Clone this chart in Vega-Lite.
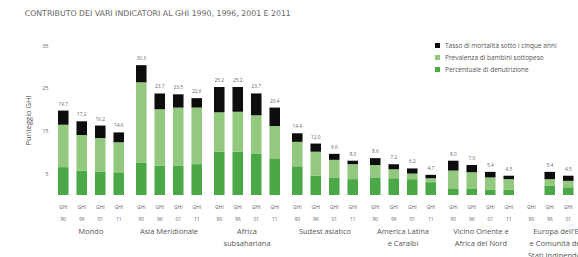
{
  "$schema": "https://vega.github.io/schema/vega-lite/v6.json",
  "padding": {"left": 24, "top": 10, "right": 0, "bottom": 0},
  "title": {"text": "CONTRIBUTO DEI VARI INDICATORI AL GHI 1990, 1996, 2001 E 2011", "anchor": "start", "frame": "bounds", "fontSize": 7.8, "fontWeight": "normal", "color": "#666666", "font": "DejaVu Sans", "offset": 24},
  "config": {"view": {"stroke": null}, "font": "Open Sans"},
  "data": {"values": [
    {"regione": "Mondo", "anno": "90", "indicatore": "Percentuale di denutrizione", "valore": 6.5},
    {"regione": "Mondo", "anno": "90", "indicatore": "Prevalenza di bambini sottopeso", "valore": 9.9},
    {"regione": "Mondo", "anno": "90", "indicatore": "Tasso di mortalità sotto i cinque anni", "valore": 3.3},
    {"regione": "Mondo", "anno": "96", "indicatore": "Percentuale di denutrizione", "valore": 5.7},
    {"regione": "Mondo", "anno": "96", "indicatore": "Prevalenza di bambini sottopeso", "valore": 8.3},
    {"regione": "Mondo", "anno": "96", "indicatore": "Tasso di mortalità sotto i cinque anni", "valore": 3.2},
    {"regione": "Mondo", "anno": "01", "indicatore": "Percentuale di denutrizione", "valore": 5.4},
    {"regione": "Mondo", "anno": "01", "indicatore": "Prevalenza di bambini sottopeso", "valore": 7.9},
    {"regione": "Mondo", "anno": "01", "indicatore": "Tasso di mortalità sotto i cinque anni", "valore": 2.9},
    {"regione": "Mondo", "anno": "11", "indicatore": "Percentuale di denutrizione", "valore": 5.3},
    {"regione": "Mondo", "anno": "11", "indicatore": "Prevalenza di bambini sottopeso", "valore": 7.0},
    {"regione": "Mondo", "anno": "11", "indicatore": "Tasso di mortalità sotto i cinque anni", "valore": 2.3},
    {"regione": "Asia Meridionale", "anno": "90", "indicatore": "Percentuale di denutrizione", "valore": 7.6},
    {"regione": "Asia Meridionale", "anno": "90", "indicatore": "Prevalenza di bambini sottopeso", "valore": 18.7},
    {"regione": "Asia Meridionale", "anno": "90", "indicatore": "Tasso di mortalità sotto i cinque anni", "valore": 4.0},
    {"regione": "Asia Meridionale", "anno": "96", "indicatore": "Percentuale di denutrizione", "valore": 6.8},
    {"regione": "Asia Meridionale", "anno": "96", "indicatore": "Prevalenza di bambini sottopeso", "valore": 13.2},
    {"regione": "Asia Meridionale", "anno": "96", "indicatore": "Tasso di mortalità sotto i cinque anni", "valore": 3.7},
    {"regione": "Asia Meridionale", "anno": "01", "indicatore": "Percentuale di denutrizione", "valore": 6.8},
    {"regione": "Asia Meridionale", "anno": "01", "indicatore": "Prevalenza di bambini sottopeso", "valore": 13.6},
    {"regione": "Asia Meridionale", "anno": "01", "indicatore": "Tasso di mortalità sotto i cinque anni", "valore": 3.1},
    {"regione": "Asia Meridionale", "anno": "11", "indicatore": "Percentuale di denutrizione", "valore": 7.2},
    {"regione": "Asia Meridionale", "anno": "11", "indicatore": "Prevalenza di bambini sottopeso", "valore": 13.2},
    {"regione": "Asia Meridionale", "anno": "11", "indicatore": "Tasso di mortalità sotto i cinque anni", "valore": 2.2},
    {"regione": "Africa subsahariana", "anno": "90", "indicatore": "Percentuale di denutrizione", "valore": 10.1},
    {"regione": "Africa subsahariana", "anno": "90", "indicatore": "Prevalenza di bambini sottopeso", "valore": 9.2},
    {"regione": "Africa subsahariana", "anno": "90", "indicatore": "Tasso di mortalità sotto i cinque anni", "valore": 5.9},
    {"regione": "Africa subsahariana", "anno": "96", "indicatore": "Percentuale di denutrizione", "valore": 10.1},
    {"regione": "Africa subsahariana", "anno": "96", "indicatore": "Prevalenza di bambini sottopeso", "valore": 9.3},
    {"regione": "Africa subsahariana", "anno": "96", "indicatore": "Tasso di mortalità sotto i cinque anni", "valore": 5.8},
    {"regione": "Africa subsahariana", "anno": "01", "indicatore": "Percentuale di denutrizione", "valore": 9.6},
    {"regione": "Africa subsahariana", "anno": "01", "indicatore": "Prevalenza di bambini sottopeso", "valore": 9.0},
    {"regione": "Africa subsahariana", "anno": "01", "indicatore": "Tasso di mortalità sotto i cinque anni", "valore": 5.1},
    {"regione": "Africa subsahariana", "anno": "11", "indicatore": "Percentuale di denutrizione", "valore": 8.4},
    {"regione": "Africa subsahariana", "anno": "11", "indicatore": "Prevalenza di bambini sottopeso", "valore": 7.7},
    {"regione": "Africa subsahariana", "anno": "11", "indicatore": "Tasso di mortalità sotto i cinque anni", "valore": 4.3},
    {"regione": "Sudest asiatico", "anno": "90", "indicatore": "Percentuale di denutrizione", "valore": 6.7},
    {"regione": "Sudest asiatico", "anno": "90", "indicatore": "Prevalenza di bambini sottopeso", "valore": 5.7},
    {"regione": "Sudest asiatico", "anno": "90", "indicatore": "Tasso di mortalità sotto i cinque anni", "valore": 2.0},
    {"regione": "Sudest asiatico", "anno": "96", "indicatore": "Percentuale di denutrizione", "valore": 4.5},
    {"regione": "Sudest asiatico", "anno": "96", "indicatore": "Prevalenza di bambini sottopeso", "valore": 5.6},
    {"regione": "Sudest asiatico", "anno": "96", "indicatore": "Tasso di mortalità sotto i cinque anni", "valore": 1.9},
    {"regione": "Sudest asiatico", "anno": "01", "indicatore": "Percentuale di denutrizione", "valore": 4.1},
    {"regione": "Sudest asiatico", "anno": "01", "indicatore": "Prevalenza di bambini sottopeso", "valore": 4.1},
    {"regione": "Sudest asiatico", "anno": "01", "indicatore": "Tasso di mortalità sotto i cinque anni", "valore": 1.4},
    {"regione": "Sudest asiatico", "anno": "11", "indicatore": "Percentuale di denutrizione", "valore": 3.7},
    {"regione": "Sudest asiatico", "anno": "11", "indicatore": "Prevalenza di bambini sottopeso", "valore": 3.5},
    {"regione": "Sudest asiatico", "anno": "11", "indicatore": "Tasso di mortalità sotto i cinque anni", "valore": 0.8},
    {"regione": "America Latina e Caraibi", "anno": "90", "indicatore": "Percentuale di denutrizione", "valore": 4.1},
    {"regione": "America Latina e Caraibi", "anno": "90", "indicatore": "Prevalenza di bambini sottopeso", "valore": 2.9},
    {"regione": "America Latina e Caraibi", "anno": "90", "indicatore": "Tasso di mortalità sotto i cinque anni", "valore": 1.6},
    {"regione": "America Latina e Caraibi", "anno": "96", "indicatore": "Percentuale di denutrizione", "valore": 3.9},
    {"regione": "America Latina e Caraibi", "anno": "96", "indicatore": "Prevalenza di bambini sottopeso", "valore": 2.1},
    {"regione": "America Latina e Caraibi", "anno": "96", "indicatore": "Tasso di mortalità sotto i cinque anni", "valore": 1.2},
    {"regione": "America Latina e Caraibi", "anno": "01", "indicatore": "Percentuale di denutrizione", "valore": 3.7},
    {"regione": "America Latina e Caraibi", "anno": "01", "indicatore": "Prevalenza di bambini sottopeso", "valore": 1.3},
    {"regione": "America Latina e Caraibi", "anno": "01", "indicatore": "Tasso di mortalità sotto i cinque anni", "valore": 1.2},
    {"regione": "America Latina e Caraibi", "anno": "11", "indicatore": "Percentuale di denutrizione", "valore": 3.0},
    {"regione": "America Latina e Caraibi", "anno": "11", "indicatore": "Prevalenza di bambini sottopeso", "valore": 0.9},
    {"regione": "America Latina e Caraibi", "anno": "11", "indicatore": "Tasso di mortalità sotto i cinque anni", "valore": 0.8},
    {"regione": "Vicino Oriente e Africa del Nord", "anno": "90", "indicatore": "Percentuale di denutrizione", "valore": 1.4},
    {"regione": "Vicino Oriente e Africa del Nord", "anno": "90", "indicatore": "Prevalenza di bambini sottopeso", "valore": 4.3},
    {"regione": "Vicino Oriente e Africa del Nord", "anno": "90", "indicatore": "Tasso di mortalità sotto i cinque anni", "valore": 2.3},
    {"regione": "Vicino Oriente e Africa del Nord", "anno": "96", "indicatore": "Percentuale di denutrizione", "valore": 1.4},
    {"regione": "Vicino Oriente e Africa del Nord", "anno": "96", "indicatore": "Prevalenza di bambini sottopeso", "valore": 3.9},
    {"regione": "Vicino Oriente e Africa del Nord", "anno": "96", "indicatore": "Tasso di mortalità sotto i cinque anni", "valore": 1.7},
    {"regione": "Vicino Oriente e Africa del Nord", "anno": "01", "indicatore": "Percentuale di denutrizione", "valore": 1.2},
    {"regione": "Vicino Oriente e Africa del Nord", "anno": "01", "indicatore": "Prevalenza di bambini sottopeso", "valore": 2.9},
    {"regione": "Vicino Oriente e Africa del Nord", "anno": "01", "indicatore": "Tasso di mortalità sotto i cinque anni", "valore": 1.3},
    {"regione": "Vicino Oriente e Africa del Nord", "anno": "11", "indicatore": "Percentuale di denutrizione", "valore": 1.2},
    {"regione": "Vicino Oriente e Africa del Nord", "anno": "11", "indicatore": "Prevalenza di bambini sottopeso", "valore": 2.5},
    {"regione": "Vicino Oriente e Africa del Nord", "anno": "11", "indicatore": "Tasso di mortalità sotto i cinque anni", "valore": 0.8},
    {"regione": "Europa dell'Est e Comunità degli Stati Indipendenti", "anno": "96", "indicatore": "Percentuale di denutrizione", "valore": 2.2},
    {"regione": "Europa dell'Est e Comunità degli Stati Indipendenti", "anno": "96", "indicatore": "Prevalenza di bambini sottopeso", "valore": 1.5},
    {"regione": "Europa dell'Est e Comunità degli Stati Indipendenti", "anno": "96", "indicatore": "Tasso di mortalità sotto i cinque anni", "valore": 1.7},
    {"regione": "Europa dell'Est e Comunità degli Stati Indipendenti", "anno": "01", "indicatore": "Percentuale di denutrizione", "valore": 1.8},
    {"regione": "Europa dell'Est e Comunità degli Stati Indipendenti", "anno": "01", "indicatore": "Prevalenza di bambini sottopeso", "valore": 1.5},
    {"regione": "Europa dell'Est e Comunità degli Stati Indipendenti", "anno": "01", "indicatore": "Tasso di mortalità sotto i cinque anni", "valore": 1.2},
    {"regione": "Europa dell'Est e Comunità degli Stati Indipendenti", "anno": "11", "indicatore": "Percentuale di denutrizione", "valore": 1.7},
    {"regione": "Europa dell'Est e Comunità degli Stati Indipendenti", "anno": "11", "indicatore": "Prevalenza di bambini sottopeso", "valore": 1.1},
    {"regione": "Europa dell'Est e Comunità degli Stati Indipendenti", "anno": "11", "indicatore": "Tasso di mortalità sotto i cinque anni", "valore": 0.8}
  ]},
  "spacing": 4,
  "facet": {
    "column": {
      "field": "regione", "type": "nominal",
      "sort": ["Mondo", "Asia Meridionale", "Africa subsahariana", "Sudest asiatico", "America Latina e Caraibi", "Vicino Oriente e Africa del Nord", "Europa dell'Est e Comunità degli Stati Indipendenti"],
      "header": {
        "title": null,
        "labelOrient": "bottom",
        "labelFontSize": 7.5,
        "labelColor": "#555555",
        "labelLineHeight": 12,
        "labelPadding": 7,
        "labelBaseline": "top",
        "labelExpr": "datum.value == 'Africa subsahariana' ? ['Africa', 'subsahariana'] : datum.value == 'America Latina e Caraibi' ? ['America Latina', 'e Caraibi'] : datum.value == 'Vicino Oriente e Africa del Nord' ? ['Vicino Oriente e', 'Africa del Nord'] : indexof(datum.value, 'Europa') == 0 ? [\"Europa dell'Est\", 'e Comunità degli', 'Stati Indipendenti'] : datum.value"
      }
    }
  },
  "spec": {
    "width": 74,
    "height": 150,
    "layer": [
      {
        "mark": {"type": "bar"},
        "encoding": {
          "x": {"field": "anno", "type": "ordinal", "sort": ["90", "96", "01", "11"],
            "scale": {"paddingInner": 0.43, "paddingOuter": 0.215},
            "axis": {"title": null, "labelExpr": "['GHI', datum.value]", "labelAngle": 0, "domain": false, "ticks": false, "labelFontSize": 5, "labelColor": "#666666", "labelLineHeight": 12, "labelPadding": 9}},
          "y": {"field": "valore", "type": "quantitative", "stack": "zero",
            "scale": {"domain": [0, 35]},
            "axis": {"title": "Punteggio GHI", "values": [5, 10, 15, 20, 25, 30, 35], "grid": false, "domain": false, "ticks": false, "labelFontSize": 5.5, "labelColor": "#666666", "labelPadding": 6, "titleFontSize": 7.5, "titleFontWeight": "normal", "titleColor": "#555555", "titlePadding": 9}},
          "color": {"field": "indicatore", "type": "nominal",
            "scale": {"domain": ["Tasso di mortalità sotto i cinque anni", "Prevalenza di bambini sottopeso", "Percentuale di denutrizione"], "range": ["#0d0d0d", "#93c97e", "#4aa847"]},
            "legend": {"title": null, "orient": "none", "legendX": 380, "legendY": -3, "symbolType": "square", "symbolSize": 25, "labelFontSize": 6.5, "labelColor": "#555555", "rowPadding": 5, "labelLimit": 300}},
          "order": {"field": "indicatore", "sort": "ascending"}
        }
      },
      {
        "mark": {"type": "text", "dy": -4, "baseline": "bottom", "fontSize": 4.8, "color": "#666666"},
        "encoding": {
          "x": {"field": "anno", "type": "ordinal", "sort": ["90", "96", "01", "11"]},
          "y": {"aggregate": "sum", "field": "valore", "type": "quantitative"},
          "text": {"aggregate": "sum", "field": "valore", "type": "quantitative", "format": ".1f"}
        }
      }
    ]
  }
}
